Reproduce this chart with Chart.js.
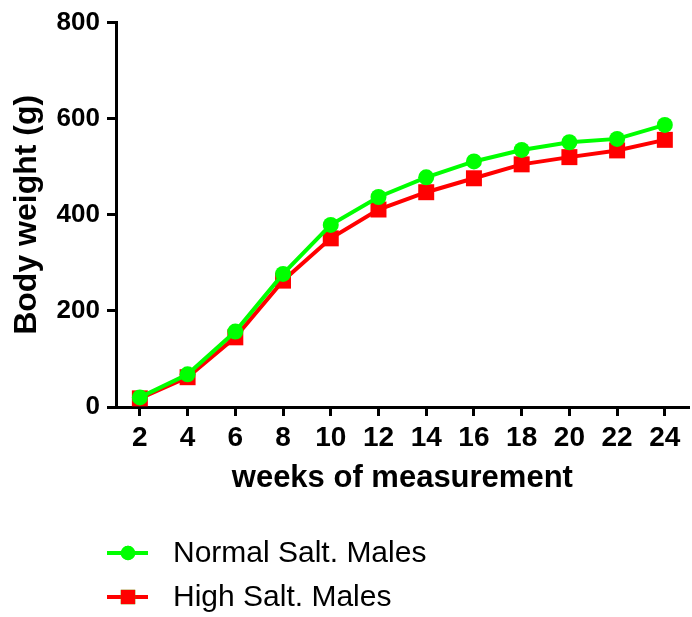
<!DOCTYPE html>
<html>
<head>
<meta charset="utf-8">
<script src="https://cdn.jsdelivr.net/npm/chart.js@4/dist/chart.umd.min.js"></script>
<style>
  html, body { margin: 0; padding: 0; background: #fff; overflow: hidden; }
  #wrap { width: 692px; height: 617px; overflow: hidden; }
  canvas { display: block; }
</style>
</head>
<body>
<div id="wrap"><canvas id="c" width="700" height="617" style="width:700px;height:617px"></canvas></div>
<script>
// Body weight of male rats on normal vs high salt diets
const weeks = [2, 4, 6, 8, 10, 12, 14, 16, 18, 20, 22, 24];
const normalSaltMales = [20, 68, 157, 277, 379, 437, 478, 511, 535, 551, 558, 587];
const highSaltMales = [18, 62, 145, 263, 351, 411, 447, 476, 505, 520, 534, 556];
const yTicks = [0, 200, 400, 600, 800];

const FONT = '"Liberation Sans", Arial, Helvetica, sans-serif';

// Legend drawn below the plot: a short line with the series marker, then the label
const sideLegend = {
  id: 'sideLegend',
  afterDraw(chart) {
    const ctx = chart.ctx;
    const rows = [553, 597];
    chart.data.datasets.forEach((ds, i) => {
      const y = rows[i];
      ctx.save();
      ctx.strokeStyle = ds.borderColor;
      ctx.lineWidth = ds.borderWidth;
      ctx.beginPath();
      ctx.moveTo(107, y);
      ctx.lineTo(148, y);
      ctx.stroke();
      Chart.helpers.drawPoint(ctx, {
        pointStyle: ds.pointStyle,
        radius: ds.pointRadius * 0.9,
        borderWidth: 0
      }, 128, y);
      ctx.fillStyle = ds.pointBackgroundColor;
      ctx.fill();
      ctx.fillStyle = '#000';
      ctx.font = '30px ' + FONT;
      ctx.textBaseline = 'middle';
      ctx.textAlign = 'left';
      ctx.fillText(ds.label, 173, y + 1);
      ctx.restore();
    });
  }
};

new Chart(document.getElementById('c'), {
  type: 'line',
  data: {
    datasets: [
      {
        label: 'Normal Salt. Males',
        data: weeks.map((w, i) => ({ x: w, y: normalSaltMales[i] })),
        borderColor: '#00ff00',
        backgroundColor: '#00ff00',
        pointBackgroundColor: '#00ff00',
        pointBorderWidth: 0,
        pointStyle: 'circle',
        pointRadius: 8,
        borderWidth: 4,
        clip: false
      },
      {
        label: 'High Salt. Males',
        data: weeks.map((w, i) => ({ x: w, y: highSaltMales[i] })),
        borderColor: '#ff0000',
        backgroundColor: '#ff0000',
        pointBackgroundColor: '#ff0000',
        pointBorderWidth: 0,
        pointStyle: 'rect',
        pointRadius: 11.3,
        borderWidth: 4,
        clip: false
      }
    ]
  },
  options: {
    responsive: false,
    animation: false,
    devicePixelRatio: 1,
    layout: { padding: { left: 0, right: 7, top: 22, bottom: 120 } },
    plugins: {
      legend: { display: false },
      tooltip: { enabled: false }
    },
    scales: {
      x: {
        type: 'linear',
        min: 1,
        max: 25,
        afterBuildTicks: s => { s.ticks = weeks.map(v => ({ value: v })); },
        afterFit: s => { s.height = 90; },
        grid: { display: true, drawOnChartArea: false, drawTicks: true, tickLength: 9, color: '#000', lineWidth: 3 },
        border: { display: true, color: '#000', width: 3 },
        ticks: { color: '#000', font: { family: FONT, size: 28, weight: 'bold' }, padding: 5, maxRotation: 0 },
        title: { display: true, text: 'weeks of measurement', color: '#000', font: { family: FONT, size: 31, weight: 'bold' }, padding: 0 }
      },
      y: {
        min: 0,
        max: 800,
        afterBuildTicks: s => { s.ticks = yTicks.map(v => ({ value: v })); },
        afterFit: s => { s.width = 116; },
        grid: { display: true, drawOnChartArea: false, drawTicks: true, tickLength: 9, color: '#000', lineWidth: 3 },
        border: { display: true, color: '#000', width: 3 },
        ticks: { color: '#000', font: { family: FONT, size: 26, weight: 'bold' }, padding: 7 },
        title: { display: true, text: 'Body weight (g)', color: '#000', font: { family: FONT, size: 32, weight: 'bold' }, padding: { top: 8, bottom: 0 } }
      }
    }
  },
  plugins: [sideLegend]
});
</script>
</body>
</html>
